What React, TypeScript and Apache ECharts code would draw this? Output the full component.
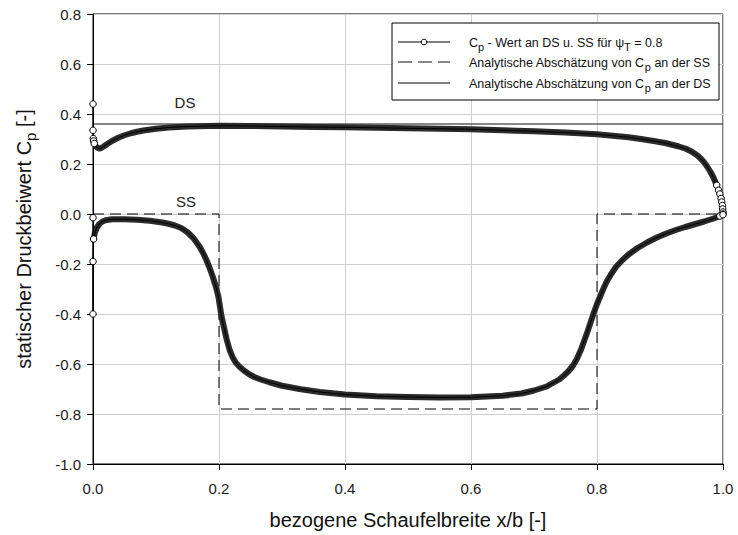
import React, { useEffect, useRef } from 'react';
import * as echarts from 'echarts';

// ---------- data ----------
// numerical C_p on the pressure side (DS)
const dsX = [0, 0, 0.0005, 0.001, 0.002, 0.004, 0.007, 0.010, 0.013, 0.017, 0.022, 0.03, 0.04, 0.05, 0.06, 0.07, 0.08, 0.10, 0.12, 0.15, 0.20, 0.25, 0.30, 0.35, 0.40, 0.45, 0.50, 0.55, 0.60, 0.65, 0.70, 0.75, 0.80, 0.85, 0.87, 0.89, 0.91, 0.93, 0.94, 0.95, 0.96, 0.965, 0.97, 0.975, 0.98, 0.985, 0.99, 0.993, 0.995, 0.997, 0.998, 0.999, 0.9995, 1.0, 1.0];
const dsY = [0.44, 0.335, 0.302, 0.292, 0.282, 0.272, 0.265, 0.262, 0.264, 0.270, 0.279, 0.292, 0.305, 0.315, 0.323, 0.329, 0.334, 0.341, 0.346, 0.350, 0.353, 0.352, 0.350, 0.348, 0.347, 0.345, 0.343, 0.341, 0.339, 0.335, 0.331, 0.326, 0.319, 0.307, 0.300, 0.292, 0.283, 0.270, 0.262, 0.250, 0.233, 0.221, 0.207, 0.189, 0.169, 0.145, 0.115, 0.095, 0.080, 0.062, 0.048, 0.034, 0.020, 0.008, 0.0];

// numerical C_p on the suction side (SS)
const ssX = [0, 0, 0, 0.001, 0.003, 0.006, 0.010, 0.015, 0.02, 0.03, 0.05, 0.07, 0.09, 0.11, 0.12, 0.13, 0.14, 0.15, 0.16, 0.17, 0.175, 0.18, 0.185, 0.19, 0.195, 0.199, 0.204, 0.208, 0.212, 0.217, 0.222, 0.227, 0.233, 0.24, 0.248, 0.256, 0.265, 0.28, 0.30, 0.33, 0.36, 0.40, 0.45, 0.50, 0.55, 0.60, 0.65, 0.68, 0.70, 0.72, 0.74, 0.748, 0.755, 0.762, 0.768, 0.775, 0.78, 0.785, 0.79, 0.795, 0.80, 0.805, 0.81, 0.815, 0.822, 0.83, 0.84, 0.85, 0.865, 0.88, 0.895, 0.91, 0.925, 0.94, 0.955, 0.97, 0.985, 0.995, 1.0];
const ssY = [-0.015, -0.40, -0.19, -0.10, -0.075, -0.055, -0.040, -0.030, -0.025, -0.021, -0.021, -0.023, -0.027, -0.034, -0.039, -0.046, -0.056, -0.073, -0.098, -0.134, -0.157, -0.184, -0.215, -0.25, -0.29, -0.33, -0.41, -0.455, -0.50, -0.545, -0.575, -0.596, -0.612, -0.627, -0.641, -0.652, -0.661, -0.673, -0.687, -0.701, -0.712, -0.722, -0.729, -0.732, -0.734, -0.733, -0.727, -0.718, -0.706, -0.690, -0.662, -0.645, -0.628, -0.606, -0.580, -0.540, -0.505, -0.470, -0.432, -0.395, -0.360, -0.330, -0.300, -0.272, -0.242, -0.212, -0.185, -0.162, -0.135, -0.113, -0.094, -0.078, -0.064, -0.052, -0.041, -0.030, -0.018, -0.008, -0.003];

// analytic estimates
const dsAnalyticX = [0, 1];
const dsAnalyticY = [0.36, 0.36];
const ssAnalyticX = [0, 0.2, 0.2, 0.8, 0.8, 1.0];
const ssAnalyticY = [0, 0, -0.78, -0.78, 0, 0];

const NAME_CP = 'Cp - Wert an DS u. SS';
const NAME_SS = 'Analytische Abschätzung SS';
const NAME_DS = 'Analytische Abschätzung DS';

const FONT = '"Liberation Sans", Arial, Helvetica, sans-serif';

const pairs = (xs: number[], ys: number[]) => xs.map((x, i) => [x, ys[i]]);

export default function App() {
  const ref = useRef<HTMLDivElement>(null);

  useEffect(() => {
    if (!ref.current) return;
    const chart = echarts.init(ref.current, undefined, { renderer: 'svg' });

    const markerItems = (xs: number[], ys: number[]) =>
      xs.map((x, i) =>
        x <= 0.002 || x >= 0.99
          ? { value: [x, ys[i]] }
          : { value: [x, ys[i]], symbol: 'none' }
      );
    const band = (xs: number[], ys: number[], lo: number, hi: number) =>
      pairs(xs, ys).filter((p) => p[0] >= lo && p[0] <= hi);

    const bandStyle = { width: 6, color: '#2a2a2a', cap: 'round', join: 'round' };
    const markerSeries = (data: any[]) => ({
      type: 'line',
      name: NAME_CP,
      data,
      symbol: 'circle',
      symbolSize: 6.5,
      showAllSymbol: true,
      itemStyle: { color: '#fff', borderColor: '#000', borderWidth: 1 },
      lineStyle: { width: 1, color: '#000' },
      z: 4,
      silent: true,
    });

    const rich = {
      a: { fontSize: 12.5, fontFamily: FONT, fill: '#111', lineHeight: 15 },
      s: { fontSize: 11, fontFamily: FONT, fill: '#111', padding: [8, 0, 0, 0] },
    };
    const titleRich = {
      a: { fontSize: 20, fontFamily: FONT, fill: '#111', lineHeight: 24 },
      s: { fontSize: 15, fontFamily: FONT, fill: '#111', padding: [12, 0, 0, 0] },
    };

    const lx0 = 398;
    const lx1 = 450;
    const tx = 469;

    chart.setOption({
      animation: false,
      backgroundColor: '#fff',
      grid: {
        left: 93,
        right: 15,
        top: 14,
        bottom: 71,
        show: true,
        borderColor: '#000',
        borderWidth: 1,
      },
      xAxis: {
        type: 'value',
        min: 0,
        max: 1,
        interval: 0.2,
        name: 'bezogene Schaufelbreite x/b [-]',
        nameLocation: 'middle',
        nameGap: 46,
        nameTextStyle: { fontSize: 20, fontFamily: FONT, color: '#111' },
        axisLine: { onZero: false, lineStyle: { color: '#000', width: 1 } },
        axisTick: { show: true, inside: false, length: 6, lineStyle: { color: '#000' } },
        axisLabel: {
          fontSize: 15,
          fontFamily: FONT,
          color: '#1a1a1a',
          margin: 17,
          formatter: (v: number) => v.toFixed(1),
        },
        splitLine: { show: true, lineStyle: { color: '#cfcfcf', width: 1 } },
      },
      yAxis: {
        type: 'value',
        min: -1,
        max: 0.8,
        interval: 0.2,
        axisLine: { show: true, onZero: false, lineStyle: { color: '#000', width: 1 } },
        axisTick: { show: true, inside: false, length: 6, lineStyle: { color: '#000' } },
        axisLabel: {
          fontSize: 15,
          fontFamily: FONT,
          color: '#1a1a1a',
          margin: 12,
          formatter: (v: number) => v.toFixed(1),
        },
        splitLine: { show: true, lineStyle: { color: '#cfcfcf', width: 1 } },
      },
      series: [
        {
          type: 'line',
          name: NAME_SS,
          data: pairs(ssAnalyticX, ssAnalyticY),
          symbol: 'none',
          lineStyle: { color: '#000', width: 1, type: [11, 6] },
          z: 1,
          silent: true,
        },
        {
          type: 'line',
          name: NAME_DS,
          data: pairs(dsAnalyticX, dsAnalyticY),
          symbol: 'none',
          lineStyle: { color: '#111', width: 1 },
          z: 1,
          silent: true,
        },
        {
          type: 'line',
          name: 'bandDS',
          data: band(dsX, dsY, 0.0005, 0.99),
          symbol: 'none',
          lineStyle: bandStyle,
          z: 3,
          silent: true,
        },
        {
          type: 'line',
          name: 'bandSS',
          data: band(ssX, ssY, 0.001, 1.0),
          symbol: 'none',
          lineStyle: bandStyle,
          z: 3,
          silent: true,
        },
        markerSeries(markerItems(dsX, dsY)),
        markerSeries(markerItems(ssX, ssY)),
      ],
      graphic: [
        {
          type: 'text',
          x: 24,
          y: 239,
          rotation: Math.PI / 2,
          style: {
            text: '{a|statischer Druckbeiwert C}{s|p}{a| [-]}',
            rich: titleRich,
            align: 'center',
            verticalAlign: 'middle',
          },
        },
        {
          type: 'text',
          x: 185,
          y: 102,
          style: { text: 'DS', fontSize: 15, fontFamily: FONT, fill: '#222', align: 'center', verticalAlign: 'middle' },
          z: 50,
        },
        {
          type: 'text',
          x: 186,
          y: 201,
          style: { text: 'SS', fontSize: 15, fontFamily: FONT, fill: '#222', align: 'center', verticalAlign: 'middle' },
          z: 50,
        },
        {
          type: 'group',
          z: 100,
          children: [
            {
              type: 'rect',
              shape: { x: 392, y: 23, width: 327, height: 77 },
              style: { fill: '#fff', stroke: '#000', lineWidth: 1 },
              z: 100,
            },
            {
              type: 'line',
              shape: { x1: lx0, y1: 42, x2: lx1, y2: 42 },
              style: { stroke: '#000', lineWidth: 1 },
              z: 101,
            },
            {
              type: 'circle',
              shape: { cx: (lx0 + lx1) / 2, cy: 42, r: 2.8 },
              style: { fill: '#fff', stroke: '#000', lineWidth: 1 },
              z: 102,
            },
            {
              type: 'line',
              shape: { x1: lx0, y1: 62, x2: lx1, y2: 62 },
              style: { stroke: '#111', lineWidth: 1, lineDash: [14, 6] },
              z: 101,
            },
            {
              type: 'line',
              shape: { x1: lx0, y1: 83, x2: lx1, y2: 83 },
              style: { stroke: '#000', lineWidth: 1 },
              z: 101,
            },
            {
              type: 'text',
              x: tx,
              y: 43,
              style: {
                text: '{a|C}{s|p}{a| - Wert an DS u. SS für ψ}{s|T}{a| = 0.8}',
                rich,
                verticalAlign: 'middle',
              },
              z: 101,
            },
            {
              type: 'text',
              x: tx,
              y: 63,
              style: {
                text: '{a|Analytische Abschätzung von C}{s|p}{a| an der SS}',
                rich,
                verticalAlign: 'middle',
              },
              z: 101,
            },
            {
              type: 'text',
              x: tx,
              y: 84,
              style: {
                text: '{a|Analytische Abschätzung von C}{s|p}{a| an der DS}',
                rich,
                verticalAlign: 'middle',
              },
              z: 101,
            },
          ],
        },
      ],
    });

    return () => chart.dispose();
  }, []);

  return (
    <div
      ref={ref}
      style={{ position: 'fixed', left: 0, top: 0, width: 738, height: 535, background: '#fff' }}
    />
  );
}
